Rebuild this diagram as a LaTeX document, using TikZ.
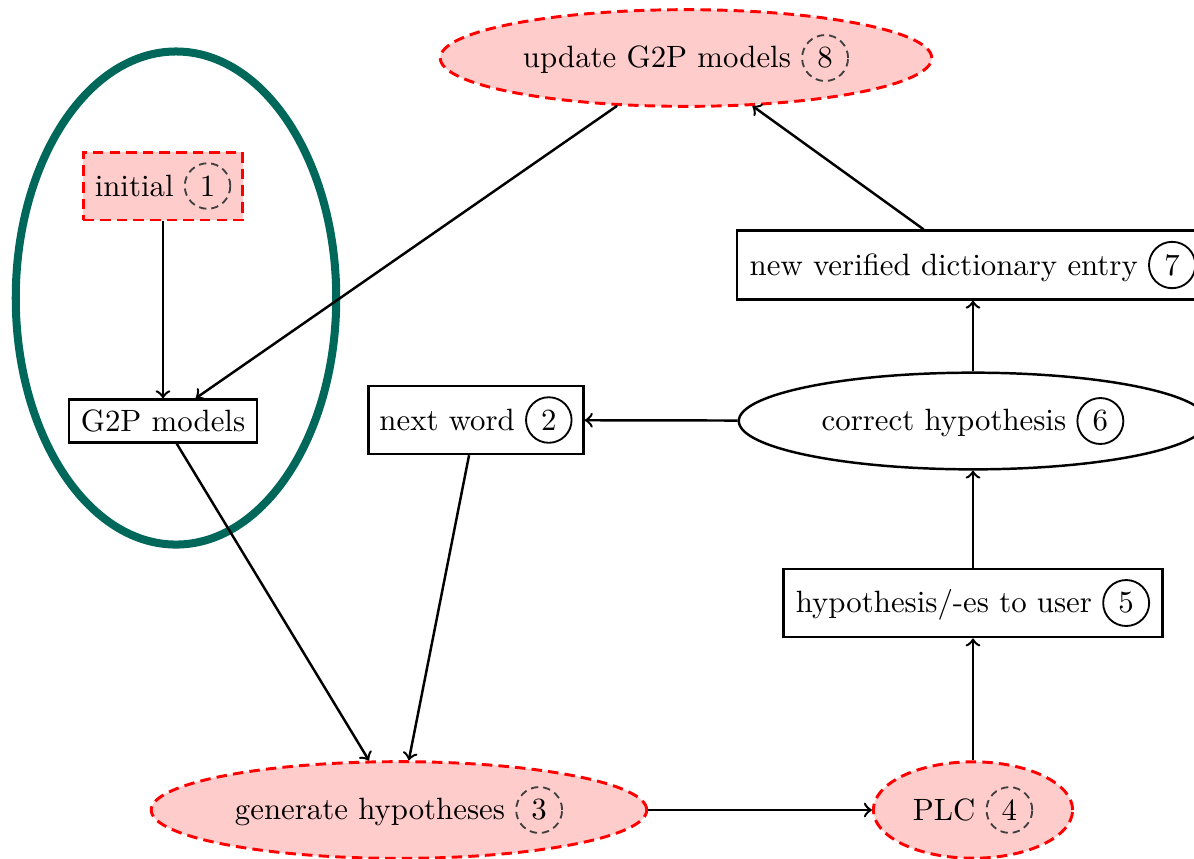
\documentclass[tikz,border=0pt]{standalone}
\usetikzlibrary{shapes.geometric}
\definecolor{pinkfill}{RGB}{255,204,204}
\definecolor{tealring}{RGB}{0,104,90}
\tikzset{
  numbase/.style={shape=circle,fill=none,minimum width=0pt,minimum height=0pt,inner sep=2.3pt,line width=0.6pt,text=black},
  plainbox/.style={draw,thick,rectangle,inner sep=3.33pt},
  reddash/.style={draw=red,line width=0.95pt,dash pattern=on 3.4pt off 2pt,fill=pinkfill},
  redbox/.style={reddash,rectangle},
  redell/.style={reddash,ellipse,minimum height=28.4pt},
  plainell/.style={draw,thick,ellipse},
  arr/.style={->,thick}
}
\newcommand{\numc}[1]{\tikz[baseline=(nc.base)]\node[numbase,draw=black,solid](nc){#1};}
\newcommand{\numd}[1]{\tikz[baseline=(nd.base)]\node[numbase,draw=black!75,dash pattern=on 2.4pt off 1.6pt](nd){#1};}
\begin{document}
\begin{tikzpicture}[x=0.3245pt,y=-0.3245pt]
\clip (0,0) rectangle (1194,858);
\fill[white] (0,0) rectangle (1194,858);
% green ring
\node[draw=tealring,line width=2.6pt,ellipse,minimum width=104pt,minimum height=160pt] (ring) at (176,298) {};
\node[redbox,minimum width=51.6pt,minimum height=21pt] (initial) at (163,186) {initial \numd{1}};
\node[plainbox,minimum width=61pt,minimum height=12.7pt] (g2p) at (163,421) {G2P models};
\node[redell,minimum width=159.5pt] (update) at (686,58) {update G2P models \numd{8}};
\node[plainbox,minimum width=153pt,minimum height=21.7pt] (entry) at (973,265) {new verified dictionary entry \numc{7}};
\node[plainbox,minimum width=69.8pt,minimum height=21.7pt] (next) at (476,420) {next word \numc{2}};
\node[plainell,minimum width=152pt,minimum height=30.2pt] (correct) at (973,421) {correct hypothesis \numc{6}};
\node[plainbox,minimum width=123pt,minimum height=21.4pt] (user) at (973,603) {hypothesis/-es to user \numc{5}};
\node[redell,minimum width=160.8pt] (gen) at (399,810) {generate hypotheses \numd{3}};
\node[redell,minimum width=64.2pt] (plc) at (973,810) {PLC \numd{4}};
\draw[arr] (initial) -- (g2p);
\draw[arr] (update) -- (g2p);
\draw[arr] (g2p) -- (gen);
\draw[arr] (next) -- (gen);
\draw[arr] (gen) -- (plc);
\draw[arr] (plc) -- (user);
\draw[arr] (user) -- (correct);
\draw[arr] (correct) -- (next);
\draw[arr] (correct) -- (entry);
\draw[arr] (entry) -- (update);
\end{tikzpicture}
\end{document}
